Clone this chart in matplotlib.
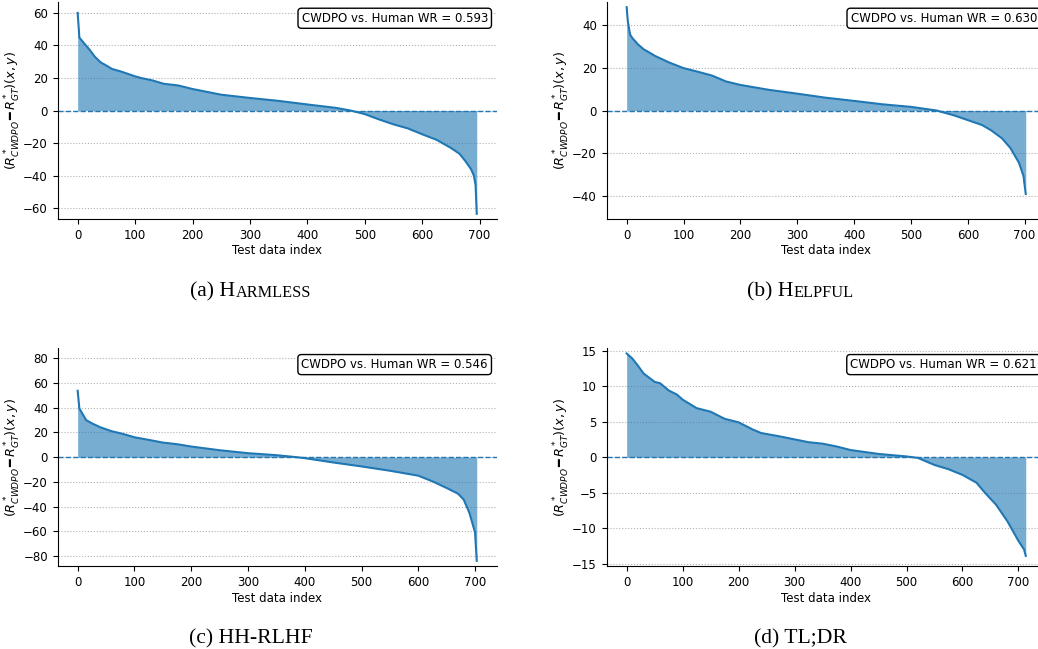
import numpy as np
import matplotlib
matplotlib.use("Agg")
import matplotlib.pyplot as plt
from matplotlib.ticker import MultipleLocator

harmless_idx = [0, 3, 10, 20, 30, 40, 50, 60, 75, 100, 110, 130, 150, 175, 200, 250, 300,
                350, 400, 450, 475, 500, 525, 550, 575, 600, 625, 650, 665, 675, 685, 690,
                693, 695]
harmless_val = [60, 44.8, 41.8, 37.7, 33, 29.6, 27.6, 25.5, 24, 21, 20, 18.5, 16.4, 15.4,
                13.2, 9.7, 7.7, 5.9, 3.7, 1.6, 0, -2.2, -5.5, -8.5, -11, -14.6, -18, -23,
                -26.6, -31, -36, -40, -46, -63.5]

helpful_idx = [0, 2, 6, 10, 20, 30, 40, 50, 75, 100, 125, 150, 175, 200, 250, 300, 350,
               400, 450, 500, 545, 575, 600, 625, 640, 660, 675, 690, 698, 702]
helpful_val = [48.5, 42, 35.7, 34, 31, 28.7, 27.2, 25.6, 22.5, 19.9, 18.2, 16.4, 13.6, 12,
               9.7, 7.9, 6, 4.5, 2.9, 1.7, 0, -2.2, -4.5, -6.8, -9.1, -13, -17.6, -24.5,
               -30.7, -39.2]

hhrlhf_idx = [0, 3, 8, 15, 25, 40, 50, 60, 80, 100, 125, 150, 175, 200, 250, 300, 350,
              385, 400, 450, 500, 550, 600, 625, 650, 670, 680, 690, 695, 700, 703]
hhrlhf_val = [53.8, 39.5, 35.5, 30, 27.4, 24.2, 22.6, 21, 18.8, 16.1, 14, 11.8, 10.5, 8.6,
              5.6, 3.2, 1.6, 0, -0.8, -4.3, -7.5, -11, -15, -19.6, -25, -29.6, -34.4, -45,
              -53, -61, -84]

tldr_idx = [0, 10, 20, 30, 50, 60, 75, 90, 100, 125, 150, 175, 200, 225, 240, 275, 300,
            325, 350, 375, 400, 450, 500, 520, 550, 575, 600, 625, 640, 660, 680, 700, 710,
            713]
tldr_val = [14.6, 13.9, 12.9, 11.8, 10.6, 10.4, 9.4, 8.8, 8.1, 6.9, 6.4, 5.4, 4.9, 3.9, 3.4,
            2.9, 2.5, 2.1, 1.9, 1.5, 1.0, 0.45, 0.1, -0.1, -1.1, -1.7, -2.5, -3.6, -5.0, -6.7,
            -9.0, -11.8, -13, -13.9]

win_rates = [0.593, 0.630, 0.546, 0.621]
tick_steps = [20, 20, 20, 5]
captions = [("(a) H", "ARMLESS"), ("(b) H", "ELPFUL"), ("(c) HH-RLHF", ""), ("(d) TL;DR", "")]

W, H = 1038, 649
fig = plt.figure(figsize=(W / 100, H / 100), dpi=100)

# axes boxes in pixels (left, top, width, height); right column runs past the figure edge
boxes = [(57.7, 2, 439, 217), (606.7, 2, 439, 217),
         (57.7, 348.3, 439, 217.7), (606.7, 348.3, 439, 217.7)]
caption_pos = [(250.5, 296.7), (800, 296.7), (251, 643), (800, 643)]

series = [(harmless_idx, harmless_val), (helpful_idx, helpful_val),
          (hhrlhf_idx, hhrlhf_val), (tldr_idx, tldr_val)]

ylabel = r"$(R^*_{CWDPO}\,$" + "\u2501" + r"$\,R^*_{GT})(x, y)$"

for i, (idx, val) in enumerate(series):
    l, t, w, h = boxes[i]
    ax = fig.add_axes([l / W, 1 - (t + h) / H, w / W, h / H])
    x = np.array(idx)
    y = np.array(val)
    ax.fill_between(x, y, 0, color="C0", alpha=0.6, linewidth=0)
    ax.plot(x, y, color="C0", lw=1.5)
    ax.axhline(0, color="C0", ls="--", lw=1)
    lim = 1.05 * np.abs(y).max()
    ax.set_ylim(-lim, lim)
    ax.yaxis.set_major_locator(MultipleLocator(tick_steps[i]))
    ax.xaxis.set_major_locator(MultipleLocator(100))
    ax.grid(axis="y", ls=":", color="gray", alpha=0.6)
    ax.set_axisbelow(True)
    for side in ("top", "right"):
        ax.spines[side].set_visible(False)
    ax.tick_params(labelsize=8.5)
    ax.set_xlabel("Test data index", fontsize=8.5, labelpad=2)
    ax.set_ylabel(ylabel, fontsize=9.2, labelpad=0)
    ax.text(0.98, 0.955, f"CWDPO vs. Human WR = {win_rates[i]:.3f}",
            transform=ax.transAxes, ha="right", va="top", fontsize=8.5,
            bbox=dict(boxstyle="round,pad=0.3", fc="white", ec="black"))

# captions with fake small caps, centred on the baseline
renderer = fig.canvas.get_renderer()
for (big, small), (cx, cy) in zip(captions, caption_pos):
    t1 = fig.text(0, 1 - cy / H, big, fontsize=15.6, family="Liberation Serif",
                  va="baseline", ha="left")
    parts = [t1]
    if small:
        parts.append(fig.text(0, 1 - cy / H, small, fontsize=11.7,
                              family="Liberation Serif", va="baseline", ha="left"))
    widths = [p.get_window_extent(renderer).width for p in parts]
    x0 = cx - sum(widths) / 2
    for p, wd in zip(parts, widths):
        p.set_x(x0 / W)
        x0 += wd

fig.savefig("out.png", dpi=100)
